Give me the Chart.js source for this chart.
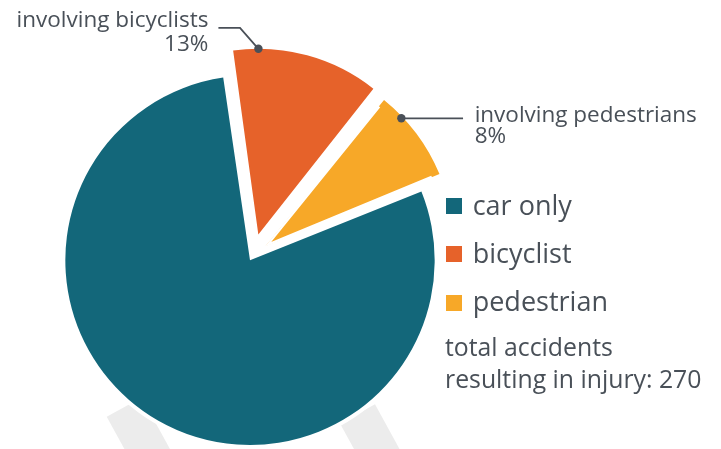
<!DOCTYPE html>
<html>
<head>
<meta charset="utf-8">
<script src="https://cdn.jsdelivr.net/npm/chart.js@4.4.1/dist/chart.umd.min.js"></script>
<style>
html,body{margin:0;padding:0;background:#fff;}
#wrap{position:relative;width:721px;height:449px;overflow:hidden;font-family:"Open Sans",sans-serif;color:#495058;}
#c{position:absolute;left:0;top:0;}
.t{position:absolute;white-space:nowrap;}
.sq{position:absolute;width:16px;height:16px;}
</style>
</head>
<body>
<div id="wrap">
<canvas id="c" width="721" height="449"></canvas>
<div id="legend"></div>
<div class="t" id="note"></div>
<div class="t" id="labB" style="text-align:right"></div>
<div class="t" id="labP"></div>
</div>
<script>
// ---- data ----
const categories = ['car only', 'bicyclist', 'pedestrian'];
const accidents = [213, 35, 22];
const sliceColors = ['#13677a', '#e6622a', '#f7a828'];
const calloutTitles = ['', 'involving bicyclists', 'involving pedestrians'];
const totalLabel = ['total accidents', 'resulting in injury: '];

const total = accidents.reduce((a, b) => a + b, 0);
const pct = accidents.map(v => Math.round(v / total * 100) + '%');

function place(el, size, lh, baseline) {
  const asc = 1.069 * size, desc = 0.293 * size;
  el.style.fontSize = size + 'px';
  el.style.lineHeight = lh + 'px';
  el.style.top = (baseline - ((lh - (asc + desc)) / 2 + asc)) + 'px';
}

// geometry of a drawn arc element (as Chart.js draws it)
function arcGeom(el) {
  const o = el.options;
  const t = (o.offset || 0) / 4;
  const half = (el.startAngle + el.endAngle) / 2;
  const circ = el.circumference;
  const fix = 1 - Math.sin(Math.min(Math.PI, circ || 0));
  const inner = o.borderAlign === 'inner';
  const r = el.outerRadius + t * fix - (inner ? 0.33 : 0) - (inner ? (o.borderWidth || 0) : 0);
  return {x: el.x + Math.cos(half) * t, y: el.y + Math.sin(half) * t, r, start: el.startAngle, circ};
}

const stripes = {
  id: 'stripes',
  beforeDatasetsDraw(chart) {
    const ctx = chart.ctx;
    const g = arcGeom(chart.getDatasetMeta(0).data[0]);
    ctx.save();
    ctx.beginPath();
    ctx.rect(0, 0, chart.width, chart.height);
    ctx.arc(g.x, g.y, g.r + 4, 0, Math.PI * 2);
    ctx.clip('evenodd');
    ctx.fillStyle = '#ececec';
    const polys = [
      [[106.7, 416.7], [141.7, 397.5], [199.3, 502.5], [164.3, 521.7]],
      [[375, 404.3], [340, 423.5], [397.6, 528.5], [432.6, 509.3]]
    ];
    polys.forEach(p => {
      ctx.beginPath();
      ctx.moveTo(p[0][0], p[0][1]);
      for (let i = 1; i < p.length; i++) ctx.lineTo(p[i][0], p[i][1]);
      ctx.closePath();
      ctx.fill();
    });
    ctx.restore();
  }
};

const callouts = {
  id: 'callouts',
  afterDatasetsDraw(chart) {
    const ctx = chart.ctx;
    const meta = chart.getDatasetMeta(0);
    const spec = [null, {frac: 0.174, kind: 'bike'}, {frac: 0.277, kind: 'ped'}];
    ctx.save();
    ctx.strokeStyle = '#4a5058';
    ctx.fillStyle = '#4a5058';
    ctx.lineWidth = 1.8;
    spec.forEach((s, i) => {
      if (!s) return;
      const g = arcGeom(meta.data[i]);
      const a = g.start + s.frac * g.circ;
      const dx = g.x + Math.cos(a) * g.r, dy = g.y + Math.sin(a) * g.r;
      ctx.beginPath();
      if (s.kind === 'bike') {
        const ex = dx - 18.4, ey = dy - 21;
        ctx.moveTo(dx, dy); ctx.lineTo(ex, ey); ctx.lineTo(ex - 21.6, ey);
        ctx.stroke();
        const lab = document.getElementById('labB');
        lab.innerHTML = calloutTitles[i] + '<br>' + pct[i];
        lab.style.right = (721 - (ex - 21.6 - 10)) + 'px';
        place(lab, 22.5, 23.3, ey);
      } else {
        ctx.moveTo(dx, dy); ctx.lineTo(dx + 61.7, dy);
        ctx.stroke();
        const lab = document.getElementById('labP');
        lab.innerHTML = calloutTitles[i] + '<br>' + pct[i];
        lab.style.left = (dx + 73.3) + 'px';
        place(lab, 22.5, 21.8, dy + 4);
      }
      ctx.beginPath();
      ctx.arc(dx, dy, 4.2, 0, Math.PI * 2);
      ctx.fill();
    });
    ctx.restore();
  }
};

new Chart(document.getElementById('c'), {
  type: 'pie',
  data: {
    labels: categories,
    datasets: [{
      data: accidents,
      backgroundColor: sliceColors,
      borderColor: '#ffffff',
      borderWidth: [0, 0, 1.7],
      borderAlign: 'inner',
      offset: [20, 89, 66],
      hoverOffset: 0
    }]
  },
  options: {
    responsive: false,
    maintainAspectRatio: false,
    devicePixelRatio: 1,
    animation: false,
    rotation: 67.9,
    radius: 180,
    layout: {padding: {left: 0, right: 216, top: 63, bottom: 0}},
    plugins: {legend: {display: false}, tooltip: {enabled: false}}
  },
  plugins: [stripes, callouts]
});

// legend (HTML)
const legend = document.getElementById('legend');
categories.forEach((c, i) => {
  const base = 215 + i * 48.3;
  const sq = document.createElement('div');
  sq.className = 'sq';
  sq.style.background = sliceColors[i];
  sq.style.left = '446px';
  sq.style.top = (base - 17) + 'px';
  legend.appendChild(sq);
  const t = document.createElement('div');
  t.className = 't';
  t.textContent = c;
  t.style.left = '472.7px';
  place(t, 27, 36, base);
  legend.appendChild(t);
});
const note = document.getElementById('note');
note.innerHTML = totalLabel[0] + '<br>' + totalLabel[1] + total;
note.style.left = '445px';
place(note, 24.8, 31.6, 356.7);
</script>
</body>
</html>
